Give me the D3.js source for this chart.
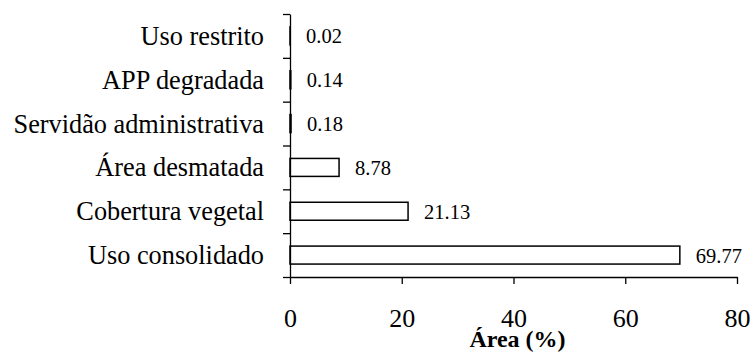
<!DOCTYPE html>
<html lang="pt">
<head>
    <meta charset="UTF-8">
    <title>Área (%)</title>
    <style>
        body { margin: 0; background: #fff; }
        svg text { font-family: "Liberation Serif", "Times New Roman", serif; fill: #000; }
        .axis path, .axis line { stroke: #000; stroke-width: 1.3px; }
        .bar { fill: #fff; stroke: #000; stroke-width: 1.5px; }
        .cat-label { font-size: 26.3px; text-anchor: end; }
        .value-label { font-size: 20.5px; }
        .tick-label { font-size: 26px; text-anchor: middle; }
        .axis-title { font-size: 24px; font-weight: bold; text-anchor: middle; }
    </style>
</head>
<body>
    <svg id="chart" width="753" height="354"></svg>

    <script src="https://d3js.org/d3.v7.min.js"></script>
    <script>
        // --- Data ---
        const categories = ["Uso restrito", "APP degradada", "Servidão administrativa", "Área desmatada", "Cobertura vegetal ", "Uso consolidado"];
        const values = [0.02, 0.14, 0.18, 8.78, 21.13, 69.77];
        const valueLabels = ["0.02", "0.14", "0.18", "8.78", "21.13", "69.77"];
        const xTicks = [0, 20, 40, 60, 80];
        const data = categories.map((c, i) => ({ cat: c, value: values[i], label: valueLabels[i] }));

        const svg = d3.select("#chart");
        const x0 = 290, x1 = 737, yTop = 14, yBottom = 277;

        const xScale = d3.scaleLinear().domain([0, 80]).range([x0, x1]);
        const yBand = d3.scaleBand()
            .domain(categories)
            .range([yTop, yBottom])
            .paddingInner(0.59)
            .paddingOuter(0.295);
        // boundaries between categories, for the y-axis ticks
        const yIdx = d3.scaleLinear().domain([0, categories.length]).range([yTop, yBottom]);

        // Bars
        svg.selectAll(".bar")
            .data(data)
            .enter().append("rect")
            .attr("class", "bar")
            .attr("x", xScale(0))
            .attr("y", d => yBand(d.cat))
            .attr("width", d => xScale(d.value) - xScale(0))
            .attr("height", yBand.bandwidth());

        // Value labels
        svg.selectAll(".value-label")
            .data(data)
            .enter().append("text")
            .attr("class", "value-label")
            .attr("x", d => xScale(d.value) + 16)
            .attr("y", d => yBand(d.cat) + yBand.bandwidth() / 2 + 7.5)
            .text(d => d.label);

        // Category labels
        svg.selectAll(".cat-label")
            .data(data)
            .enter().append("text")
            .attr("class", "cat-label")
            .attr("x", x0 - 26)
            .attr("y", d => yBand(d.cat) + yBand.bandwidth() / 2 + 9)
            .text(d => d.cat);

        // Y axis
        svg.append("g")
            .attr("class", "axis")
            .attr("transform", `translate(${x0},0)`)
            .call(d3.axisLeft(yIdx).tickValues(d3.range(categories.length + 1)).tickFormat("").tickSize(7).tickSizeOuter(0));

        // X axis
        const xAxis = svg.append("g")
            .attr("class", "axis")
            .attr("transform", `translate(0,${yBottom})`)
            .call(d3.axisBottom(xScale).tickValues(xTicks).tickSize(7).tickSizeOuter(0));
        xAxis.selectAll(".tick text")
            .attr("class", "tick-label")
            .attr("y", 50)
            .attr("dy", null)
            .style("font-size", "26px")
            .style("font-family", '"Liberation Serif", "Times New Roman", serif');

        // Axis title
        svg.append("text")
            .attr("class", "axis-title")
            .attr("x", (x0 + x1) / 2 + 4)
            .attr("y", 347)
            .text("Área (%)");
    </script>
</body>
</html>
